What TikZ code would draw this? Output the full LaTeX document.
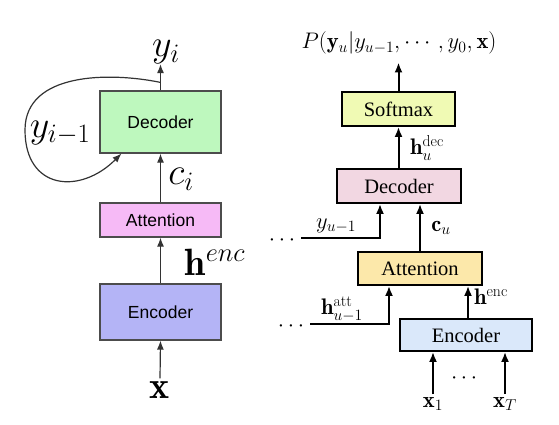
\RequirePackage{fix-cm}
\documentclass[tikz,border=0pt]{standalone}
\usepackage{amsmath}
\usepackage{fontspec}
\newfontfamily\helv{Liberation Sans}
\newfontfamily\tms{Liberation Serif}
\usetikzlibrary{arrows.meta}
\definecolor{ldeccol}{RGB}{190,248,190}
\definecolor{lattcol}{RGB}{246,186,246}
\definecolor{lenccol}{RGB}{180,180,246}
\definecolor{rsoftcol}{RGB}{240,250,180}
\definecolor{rdeccol}{RGB}{242,215,226}
\definecolor{rattcol}{RGB}{252,232,170}
\definecolor{renccol}{RGB}{218,232,250}
\begin{document}
\begin{tikzpicture}[x=1pt,y=-1pt,
  lbox/.style={draw=black!70, line width=1.2pt, minimum width=121pt, inner sep=0pt,
    font=\helv\fontsize{17.5}{20}\selectfont},
  rbox/.style={draw=black, line width=1.8pt, inner sep=0pt,
    font=\tms\fontsize{20.5}{24}\selectfont},
  larr/.style={draw=black!80, line width=1.2pt, -{Latex[length=9pt,width=7pt]}},
  rarr/.style={draw=black, line width=2pt, -{Latex[length=10pt,width=8pt]}},
  lmath/.style={font=\fontsize{38}{42}\selectfont, inner sep=0pt},
  rmath/.style={font=\fontsize{22.5}{26}\selectfont, inner sep=0pt}]
\useasboundingbox (0,0) rectangle (559,424);
% ---------- left diagram ----------
\node[lbox, fill=ldeccol, minimum height=62pt] (ldec) at (160.5,122) {Decoder};
\node[lbox, fill=lattcol, minimum height=34pt] (latt) at (160.5,220) {Attention};
\node[lbox, fill=lenccol, minimum height=56pt] (lenc) at (160.5,312) {Encoder};
\node[lmath] (yi) at (166,52) {$y_i$};
\node[lmath] (yim) at (60,133) {$y_{i-1}$};
\node[lmath] (ci) at (181,179) {$c_i$};
\node[lmath] (henc) at (215,262) {$\mathbf{h}^{enc}$};
\node[lmath] (xl) at (160,390) {$\mathbf{x}$};
\draw[larr] (ldec.north) -- (ldec.north |- yi.south);
\draw[larr] (latt.north) -- (ldec.south);
\draw[larr] (lenc.north) -- (latt.south);
\draw[larr] ([yshift=3pt]xl.north) -- (lenc.south);
\coordinate (loopstart) at ([yshift=8pt]ldec.north);
\coordinate (loopend) at ([xshift=22pt]ldec.south west);
\draw[larr] (loopstart) .. controls (110,72) and (25,72) .. (25,130)
  .. controls (25,190) and (80,195) .. (loopend);
% ---------- right diagram ----------
\node[rbox, fill=rsoftcol, minimum width=113pt, minimum height=34pt] (rsoft) at (398.5,109) {Softmax};
\node[rbox, fill=rdeccol, minimum width=124pt, minimum height=34pt] (rdec) at (399,186) {Decoder};
\node[rbox, fill=rattcol, minimum width=124pt, minimum height=33pt] (ratt) at (420,268.5) {Attention};
\node[rbox, fill=renccol, minimum width=132pt, minimum height=32pt] (renc) at (466,335) {Encoder};
\node[rmath] (plab) at (399,43) {$P(\mathbf{y}_u|y_{u-1},\cdots,y_0,\mathbf{x})$};
\node[rmath] (hdec) at (427,148) {$\mathbf{h}_u^{\mathrm{dec}}$};
\node[rmath] (cu) at (441,228) {$\mathbf{c}_u$};
\node[rmath] (yu) at (336,226) {$y_{u-1}$};
\node[rmath] (hatt) at (342,309) {$\mathbf{h}_{u-1}^{\mathrm{att}}$};
\node[rmath] (hencr) at (491,297) {$\mathbf{h}^{\mathrm{enc}}$};
\node[rmath] (x1) at (433,404) {$\mathbf{x}_1$};
\node[rmath] (xT) at (505,404) {$\mathbf{x}_T$};
\node[rmath] (xdots) at (466,378) {$\cdots$};
\node[rmath, anchor=east] (ydots) at (299,240) {$\cdots$};
\node[rmath, anchor=east] (adots) at (308,326) {$\cdots$};
\draw[rarr] (rsoft.north) -- ([yshift=-8pt]rsoft.north |- plab.south);
\draw[rarr] (rdec.north -| rsoft.north) -- (rsoft.south);
\draw[rarr] (ratt.north) -- (ratt.north |- rdec.south);
\draw[rarr] ([shift={(2pt,2pt)}]ydots.east) -| ([xshift=-19pt]rdec.south);
\draw[rarr] ([shift={(2pt,2pt)}]adots.east) -| ([xshift=-31pt]ratt.south);
\draw[rarr] ([xshift=2pt]renc.north) -- ([xshift=2pt]renc.north |- ratt.south);
\draw[rarr] ([yshift=3pt]x1.north) -- (x1.north |- renc.south);
\draw[rarr] ([yshift=3pt]xT.north) -- (xT.north |- renc.south);
\end{tikzpicture}
\end{document}
